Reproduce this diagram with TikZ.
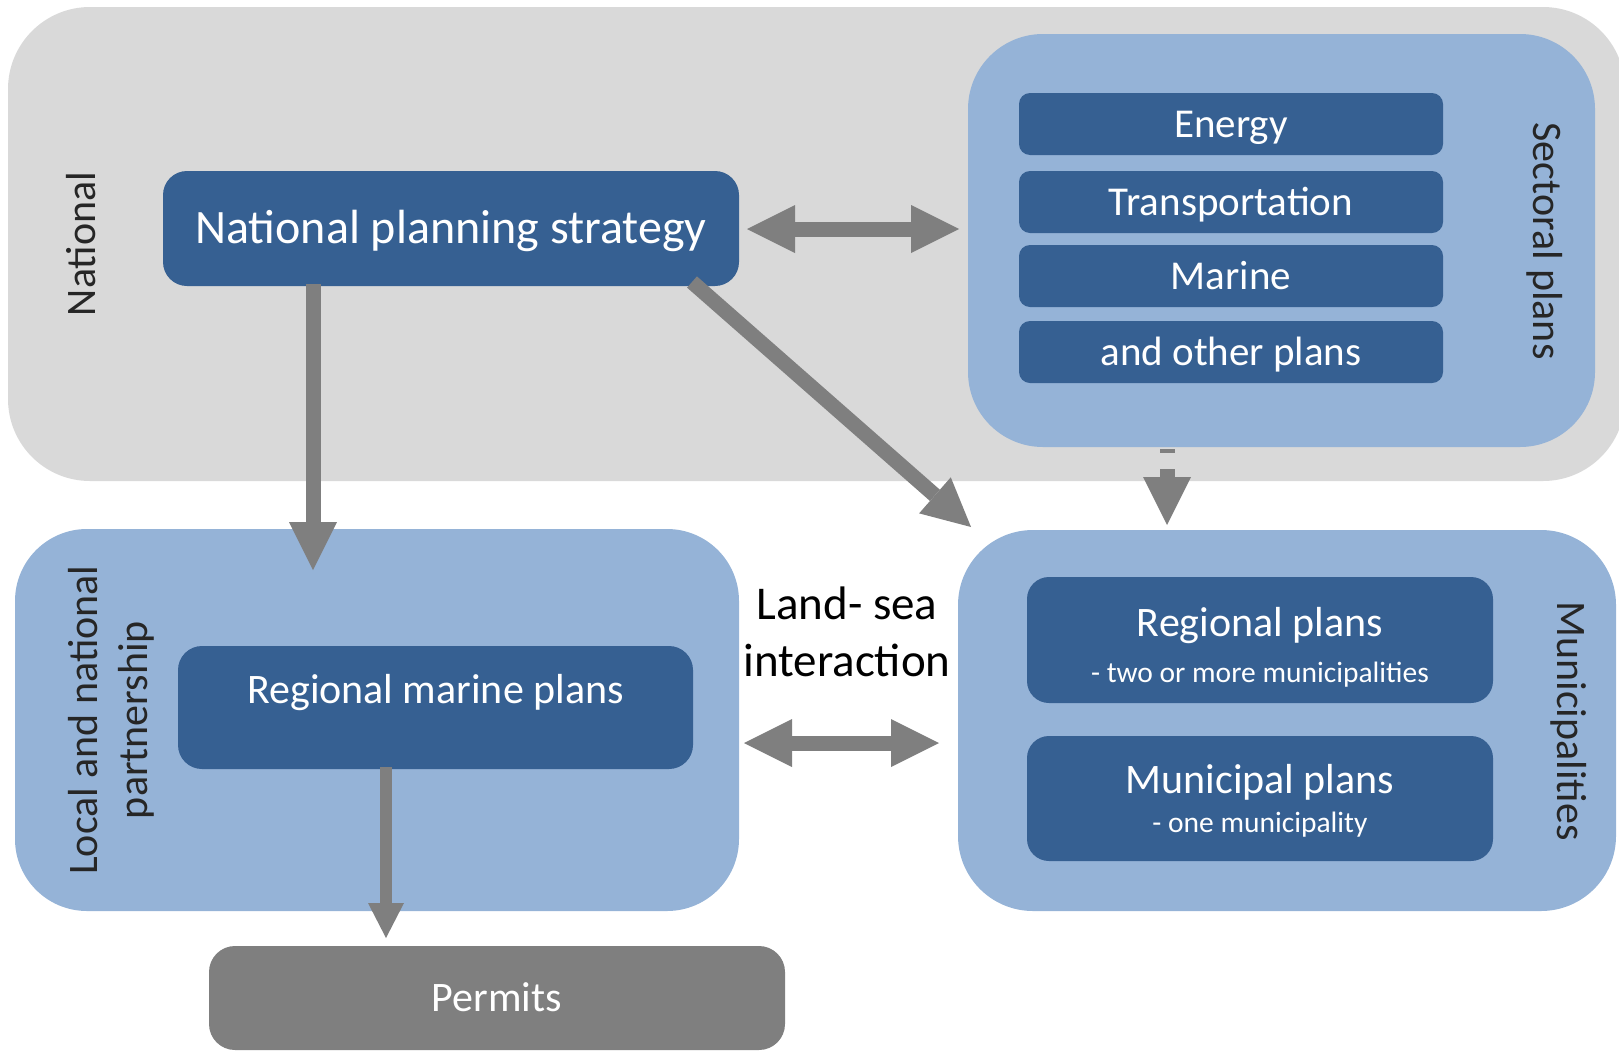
\documentclass[tikz,border=0pt]{standalone}
\usepackage{fontspec}
\setmainfont{Carlito}
\usetikzlibrary{arrows.meta}
\definecolor{bggray}{HTML}{D9D9D9}
\definecolor{lblue}{HTML}{95B3D7}
\definecolor{dblue}{HTML}{366092}
\definecolor{agray}{HTML}{7F7F7F}
\definecolor{lbltext}{HTML}{262626}
\tikzset{
  outerbox/.style={fill=bggray, draw=none, rounded corners=82pt, inner sep=0pt},
  groupbox/.style={fill=lblue, draw=none, rounded corners=75pt, inner sep=0pt},
  planbox/.style={fill=dblue, draw=none, text=white, rounded corners=24pt, inner sep=0pt},
  vcenterA/.style={text height=33.6pt, text depth=7.4pt},
  vcenterB/.style={text height=34.4pt, text depth=7.6pt},
  vcenterC/.style={text height=39.4pt, text depth=8.6pt},
  barbox/.style={fill=dblue, draw=none, text=white, rounded corners=11pt, inner sep=0pt,
    minimum width=424pt, minimum height=62pt, font=\fontsize{41}{49}\selectfont, vcenterA},
  permitbox/.style={fill=agray, draw=none, text=white, rounded corners=26pt, inner sep=0pt,
    font=\fontsize{42}{50}\selectfont, vcenterB},
  sidelabel/.style={text=lbltext, inner sep=0pt, font=\fontsize{42}{50}\selectfont, align=center},
  whitetext/.style={text=white, inner sep=0pt},
  bigarrow/.style={draw=agray, line width=15pt, -{Triangle[length=48pt,width=48pt,line width=0pt]}},
  bigdarrow/.style={draw=agray, line width=15pt, {Triangle[length=48pt,width=48pt,line width=0pt]}-{Triangle[length=48pt,width=48pt,line width=0pt]}},
  smallarrow/.style={draw=agray, line width=12pt, -{Triangle[length=35pt,width=36pt,line width=0pt]}},
}
\begin{document}
\begin{tikzpicture}[x=1pt,y=-1pt]
\useasboundingbox (0,0) rectangle (1619,1050);
\clip (0,0) rectangle (1619,1050);

% national background
\node[outerbox, minimum width=1617pt, minimum height=474pt] (natbg) at (816.5,244) {};
\node[sidelabel, rotate=90] (natlbl) at (81,244) {National};

% sectoral plans
\node[groupbox, minimum width=627pt, minimum height=413pt] (sect) at (1281.5,240.5) {};
\node[sidelabel, rotate=-90] (sectlbl) at (1545,241) {Sectoral plans};
\node[barbox] (energy) at (1231,124) {Energy};
\node[barbox] (transp) at (1231,202) {Transportation};
\node[barbox] (marine) at (1231,276) {Marine};
\node[barbox] (other) at (1231,352) {and other plans};

% national planning strategy
\node[planbox, vcenterC, minimum width=576pt, minimum height=115pt, font=\fontsize{48}{56}\selectfont] (nps) at (451,228.5) {National planning strategy};

% local and national partnership
\node[groupbox, rounded corners=72pt, minimum width=724pt, minimum height=382pt] (local) at (377,720) {};
\node[sidelabel, rotate=90] (locallbl) at (111,720) {Local and national\\partnership};
\node[planbox, minimum width=515pt, minimum height=123pt] (rmp) at (435.5,707.5) {};
\node[whitetext, vcenterB, font=\fontsize{42}{50}\selectfont] (rmptxt) at (435.5,690) {Regional marine plans};

% municipalities
\node[groupbox, minimum width=658pt, minimum height=381pt] (muni) at (1287,720.5) {};
\node[sidelabel, rotate=-90] (munilbl) at (1569,721) {Municipalities};
\node[planbox, rounded corners=22pt, minimum width=466pt, minimum height=126pt] (reg) at (1260,640) {};
\node[whitetext, anchor=base, font=\fontsize{42}{50}\selectfont] (regt) at (1260,636) {Regional plans};
\node[whitetext, anchor=base, font=\fontsize{29.5}{35}\selectfont] (regs) at (1260,682) {- two or more municipalities};
\node[planbox, rounded corners=22pt, minimum width=466pt, minimum height=125pt] (mun) at (1260,798.5) {};
\node[whitetext, anchor=base, font=\fontsize{42}{50}\selectfont] (munt) at (1260,793) {Municipal plans};
\node[whitetext, anchor=base, font=\fontsize{29.5}{35}\selectfont] (muns) at (1260,832) {- one municipality};

% land-sea interaction
\node[inner sep=0pt, align=center, text=black, font=\fontsize{47}{57}\selectfont] (lsi) at (847,632) {Land- sea\\interaction};

% permits
\node[permitbox, minimum width=576pt, minimum height=104pt] (permits) at (497,998) {Permits};

% connectors
\coordinate (a1) at (313,570);
\draw[bigarrow] (nps.south -| a1) ++(0,-2) -- (a1);

\coordinate (d0) at (692,282);
\coordinate (d1) at (971,527);
\draw[bigarrow] (d0) -- (d1);

\coordinate (h0) at (747,229);
\coordinate (h1) at (959,229);
\draw[bigdarrow] (h0) -- (h1);

\coordinate (m0) at (744,743);
\coordinate (m1) at (939,743);
\draw[bigdarrow] (m0) -- (m1);

\coordinate (p1) at (386,938);
\draw[smallarrow] (rmp.south -| p1) ++(0,-2) -- (p1);

\coordinate (s1) at (1167,525);
\draw[bigarrow, dash pattern=on 4pt off 16pt on 80pt] (sect.south -| s1) ++(0,2) -- (s1);
\end{tikzpicture}
\end{document}
